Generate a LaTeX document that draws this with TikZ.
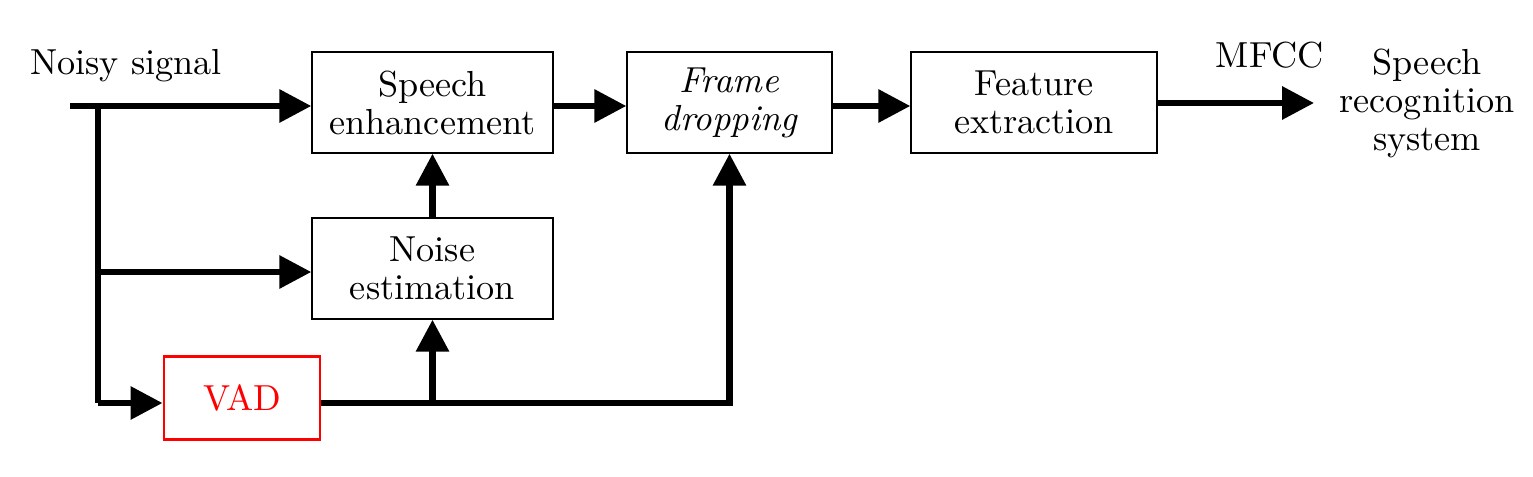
\documentclass[tikz,border=0pt]{standalone}
\usetikzlibrary{arrows.meta, calc}

\begin{document}
\begin{tikzpicture}[every node/.style={font=\fontsize{10.3}{10.8}\selectfont, align=center},
	blk/.style={draw, thin, minimum height=1.01cm, inner sep=0pt},
	sig/.style={-{Triangle[length=3.2mm, width=3.2mm]}}]
	\useasboundingbox (0,0) rectangle (15.33,4.76);
	
	\begin{scope}
	\node (noisy) at (1.26,4.10) {Noisy signal};
	\node (se) at (4.325,3.735) [blk, minimum width=2.41cm] {Speech\\enhancement};
	\node (fd) at (7.295,3.735) [blk, minimum width=2.05cm] {{\itshape Frame}\\{\itshape dropping}};
	\node (fe) at (10.34,3.735) [blk, minimum width=2.46cm] {Feature\\extraction};
	\node (mfcc) at (12.70,4.21) {MFCC};
	\node (asr) at (14.27,3.73) {Speech\\recognition\\system};
	\end{scope}
	
	\begin{scope}
	\node (ne) at (4.325,2.075) [blk, minimum width=2.41cm] {Noise\\estimation};
	\node (vad) at (2.42,0.78) [draw=red, text=red, line width=0.85pt, minimum width=1.56cm, minimum height=0.83cm] {VAD};
	\end{scope}
	
	\coordinate (in) at (0.70,3.70);
	\coordinate (split) at (0.98,3.70);
	\coordinate (splitne) at (0.98,2.04);
	\coordinate (splitvad) at (0.98,0.73);
	
	\begin{scope}[line width=1.8pt]
	\draw[sig] (in) -- (se.west |- in);
	\draw (split) -- (splitvad);
	\draw[sig] (splitne) -- (ne.west |- splitne);
	\draw[sig] (splitvad) -- (vad.west |- splitvad);
	\draw[sig] (vad.east |- splitvad) -- (fd.south |- splitvad) -- (fd.south);
	\draw[sig] (ne.south |- splitvad) -- (ne.south);
	\draw[sig] (ne) -- (se);
	\draw[sig] (se.east |- in) -- (fd.west |- in);
	\draw[sig] (fd.east |- in) -- (fe.west |- in);
	\draw[sig, shorten >=0.13cm] (fe.east |- asr) -- (asr);
	\end{scope}
	\end{tikzpicture}
\end{document}
